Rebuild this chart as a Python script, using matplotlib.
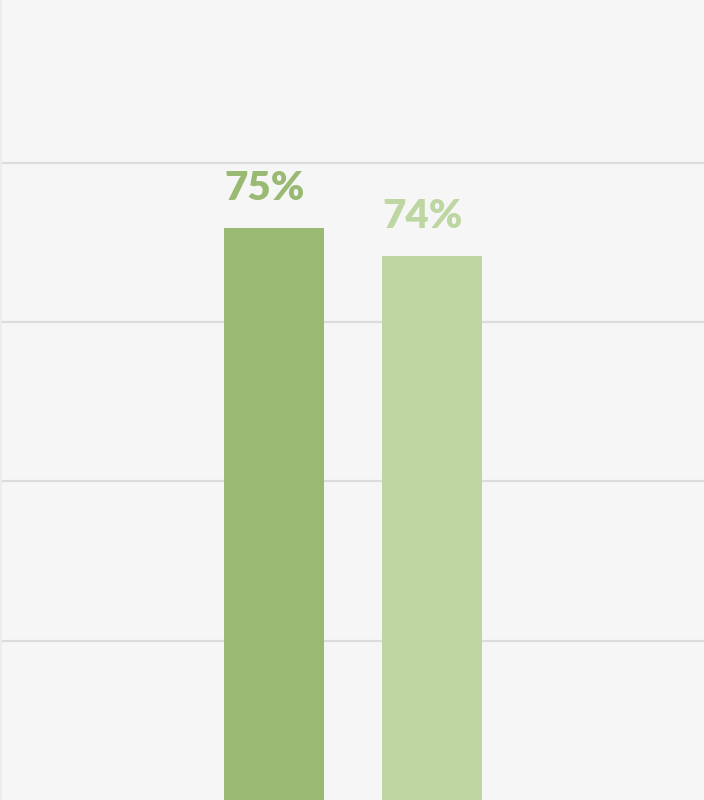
import matplotlib.pyplot as plt

# values
categories = ["A", "B"]
heights = [71.8, 68.3]
labels = ["75%", "74%"]
colors = ["#9ab973", "#bdd6a2"]
grid_ticks = [20, 40, 60, 80]


def main():
    fig = plt.figure(figsize=(7.04, 8), dpi=100)
    fig.patch.set_facecolor("#f6f6f6")
    ax = fig.add_axes([0, 0, 1, 1])
    ax.set_facecolor("#f6f6f6")

    pos = list(range(len(categories)))
    width = 0.633
    ax.bar(pos, heights, width=width, color=colors, zorder=3)

    for x, h, lab, c in zip(pos, heights, labels, colors):
        ax.annotate(lab, (x - width / 2, h), xytext=(0, 15), textcoords="offset points",
                    ha="left", va="bottom", fontsize=29, fontweight="heavy",
                    family=["Lato", "DejaVu Sans"], color=c)

    ax.set_xlim(-1.734, 2.722)
    ax.set_ylim(0, 100.4)
    ax.set_yticks(grid_ticks)
    ax.set_xticks([])
    ax.yaxis.grid(True, color="#dcdcdc", linewidth=1.6, zorder=0)
    ax.tick_params(left=False, labelleft=False)
    for side in ["top", "right", "bottom"]:
        ax.spines[side].set_visible(False)
    ax.spines["left"].set_color("#ececec")
    ax.spines["left"].set_linewidth(2)

    fig.savefig("out.png", dpi=100, facecolor=fig.get_facecolor())
    plt.close(fig)


if __name__ == "__main__":
    main()
